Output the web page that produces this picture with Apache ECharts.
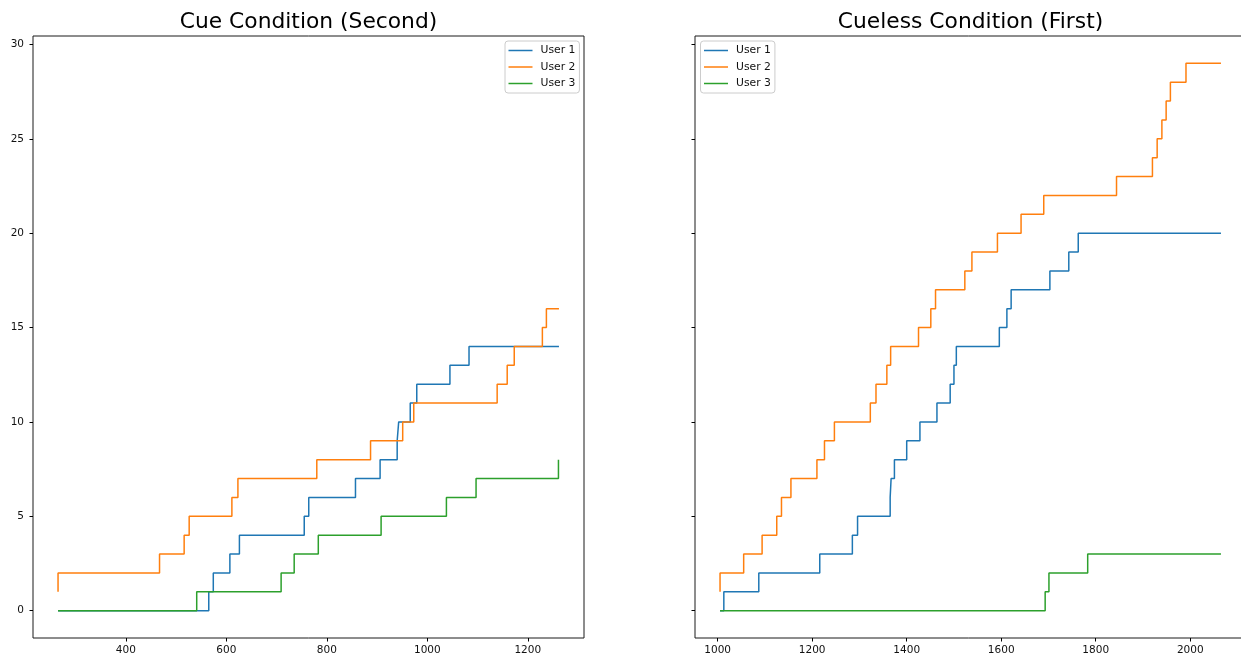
<!DOCTYPE html>
<html>
<head>
<meta charset="utf-8">
<title>Cue vs Cueless Condition</title>
<script src="https://cdn.jsdelivr.net/npm/echarts@6/dist/echarts.min.js"></script>
<style>
  html, body { margin: 0; padding: 0; background: #fff; }
  #chart { width: 1241px; height: 660px; }
</style>
</head>
<body>
<div id="chart"></div>
<script>
// Cumulative step counts per user; each time is where the count steps to the next value.
const cueUser1Time  = [265, 565, 574, 607, 626, 755, 764, 857, 906, 940, 943, 966, 979, 1045, 1083, 1262];
const cueUser1Count = [0, 0, 1, 2, 3, 4, 5, 6, 7, 8, 9, 10, 11, 12, 13, 14];
const cueUser2Time  = [265, 467, 516, 526, 611, 623, 780, 887, 951, 973, 1139, 1159, 1173, 1229, 1237, 1262];
const cueUser2Count = [1, 2, 3, 4, 5, 6, 7, 8, 9, 10, 11, 12, 13, 14, 15, 16];
const cueUser3Time  = [265, 541, 709, 735, 783, 908, 1038, 1097, 1261, 1262];
const cueUser3Count = [0, 0, 1, 2, 3, 4, 5, 6, 7, 8];

const cuelessUser1Time  = [1005, 1013, 1087, 1216, 1285, 1296, 1365, 1367, 1374, 1400, 1428, 1464, 1492, 1500, 1505, 1596, 1612, 1621, 1703, 1743, 1763, 2065];
const cuelessUser1Count = [0, 0, 1, 2, 3, 4, 5, 6, 7, 8, 9, 10, 11, 12, 13, 14, 15, 16, 17, 18, 19, 20];
const cuelessUser2Time  = [1005, 1055, 1094, 1125, 1135, 1155, 1210, 1226, 1247, 1323, 1335, 1358, 1366, 1425, 1451, 1461, 1523, 1538, 1592, 1642, 1690, 1844, 1920, 1930, 1940, 1949, 1958, 1991, 2065];
const cuelessUser2Count = [1, 2, 3, 4, 5, 6, 7, 8, 9, 10, 11, 12, 13, 14, 15, 16, 17, 18, 19, 20, 21, 22, 23, 24, 25, 26, 27, 28, 29];
const cuelessUser3Time  = [1005, 1693, 1701, 1783, 2065];
const cuelessUser3Count = [0, 0, 1, 2, 3];

const userNames = ['User 1', 'User 2', 'User 3'];
const userColors = ['#1f77b4', '#ff7f0e', '#2ca02c'];
const panelTitles = ['Cue Condition (Second)', 'Cueless Condition (First)'];

const cueXTicks = [400, 600, 800, 1000, 1200];
const cuelessXTicks = [1000, 1200, 1400, 1600, 1800, 2000];
const yTicks = [0, 5, 10, 15, 20, 25, 30];

const FONT = 'DejaVu Sans';

function pairs(times, counts) {
  return times.map((t, i) => [t, counts[i]]);
}

const panels = [
  [pairs(cueUser1Time, cueUser1Count), pairs(cueUser2Time, cueUser2Count), pairs(cueUser3Time, cueUser3Count)],
  [pairs(cuelessUser1Time, cuelessUser1Count), pairs(cuelessUser2Time, cuelessUser2Count), pairs(cuelessUser3Time, cuelessUser3Count)]
];

// matplotlib-style 5% padding around the data extent
function paddedRange(arrays) {
  let lo = Infinity, hi = -Infinity;
  arrays.forEach(a => a.forEach(v => { lo = Math.min(lo, v); hi = Math.max(hi, v); }));
  const pad = (hi - lo) * 0.05;
  return [lo - pad, hi + pad];
}
const cueXRange = paddedRange([cueUser1Time, cueUser2Time, cueUser3Time]);
const cuelessXRange = paddedRange([cuelessUser1Time, cuelessUser2Time, cuelessUser3Time]);
const yRange = paddedRange([cueUser1Count, cueUser2Count, cueUser3Count, cuelessUser1Count, cuelessUser2Count, cuelessUser3Count]);

const gridBox = [
  { left: 33, top: 36, width: 551, height: 602 },
  { left: 695, top: 36, width: 551, height: 602 }
];

const plainNumber = v => String(v);

function xAxisFor(idx, range, ticks) {
  return {
    type: 'value', gridIndex: idx, position: 'bottom', min: range[0], max: range[1],
    axisLine: { show: false, onZero: false },
    splitLine: { show: false },
    axisTick: { show: true, length: 3.5, customValues: ticks, lineStyle: { color: '#000', width: 1 } },
    axisLabel: { customValues: ticks, formatter: plainNumber, margin: 7, color: '#111', fontSize: 10.5, fontFamily: FONT }
  };
}
function yAxisFor(idx, showLabels) {
  return {
    type: 'value', gridIndex: idx, position: 'left', min: yRange[0], max: yRange[1],
    axisLine: { show: false, onZero: false },
    splitLine: { show: false },
    axisTick: { show: true, length: 3.5, customValues: yTicks, lineStyle: { color: '#000', width: 1 } },
    axisLabel: { show: showLabels, customValues: yTicks, formatter: plainNumber, margin: 9, color: '#111', fontSize: 10.5, fontFamily: FONT }
  };
}

const series = [];
panels.forEach((panel, p) => {
  panel.forEach((data, u) => {
    series.push({
      name: userNames[u], type: 'line', step: 'start',
      xAxisIndex: p, yAxisIndex: p,
      data: data, showSymbol: false, symbol: 'none',
      lineStyle: { color: userColors[u], width: 1.5 },
      itemStyle: { color: userColors[u] },
      animation: false, silent: true, z: 2 + u
    });
  });
});

function legendAt(left) {
  return {
    left: left, top: 41, orient: 'vertical',
    data: userNames.map(n => ({ name: n, icon: 'rect' })),
    itemWidth: 24, itemHeight: 1.5, itemGap: 4.5,
    padding: [3.5, 4, 3.5, 3.5],
    backgroundColor: 'rgba(255,255,255,0.8)',
    borderColor: '#cccccc', borderWidth: 1, borderRadius: 3,
    selectedMode: false,
    textStyle: { color: '#111', fontSize: 10.8, fontFamily: FONT, lineHeight: 12, padding: [0, 0, 0, 3] }
  };
}

const chart = echarts.init(document.getElementById('chart'), null, { renderer: 'canvas' });
chart.setOption({
  backgroundColor: '#ffffff',
  animation: false,
  title: panelTitles.map((t, i) => ({
    text: t,
    left: gridBox[i].left + gridBox[i].width / 2,
    top: 22.5,
    padding: 0,
    textAlign: 'center',
    textVerticalAlign: 'middle',
    textStyle: { fontSize: 21.8, fontWeight: 'normal', color: '#000', fontFamily: FONT }
  })),
  legend: [legendAt(505), legendAt(700.5)],
  grid: gridBox.map(g => Object.assign({
    show: true, borderColor: '#1a1a1a', borderWidth: 1, backgroundColor: 'transparent',
    containLabel: false, outerBoundsMode: 'none'
  }, g)),
  xAxis: [xAxisFor(0, cueXRange, cueXTicks), xAxisFor(1, cuelessXRange, cuelessXTicks)],
  yAxis: [yAxisFor(0, true), yAxisFor(1, false)],
  series: series
});
</script>
</body>
</html>
